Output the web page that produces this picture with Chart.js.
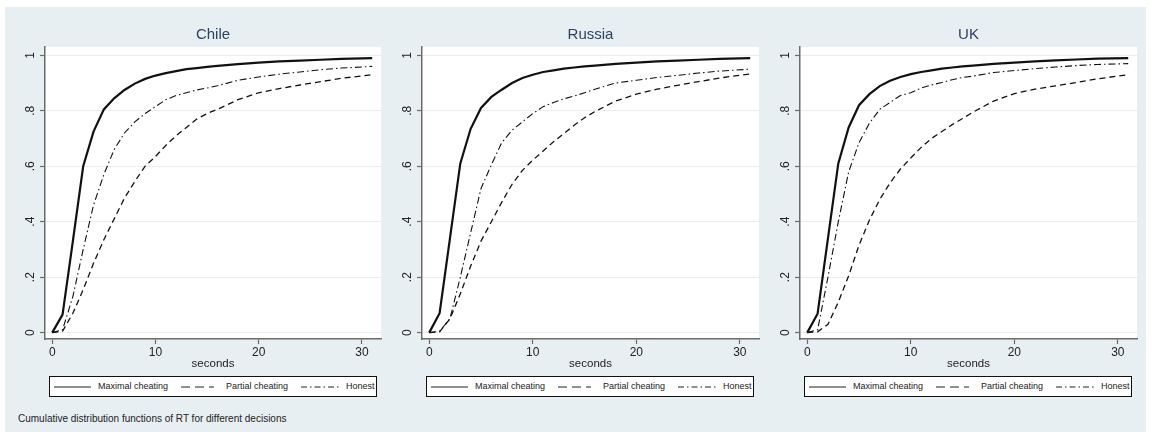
<!DOCTYPE html>
<html>
<head>
<meta charset="utf-8">
<script src="https://cdn.jsdelivr.net/npm/chart.js@4.4.1/dist/chart.umd.min.js"></script>
<style>
  body { margin: 0; background: #fff; font-family: 'Liberation Sans', Arial, sans-serif; }
  #frame { position: absolute; left: 5px; top: 7px; width: 1141px; height: 425px; background: #e8eff2; }
  canvas { position: absolute; }
  .legend { position: absolute; top: 376px; width: 328px; height: 21px; border: 1px solid #111;
            background: #fff; box-sizing: border-box; font-size: 9px; color: #222; }
  .legend svg { position: absolute; top: 9px; }
  .legend span { position: absolute; top: 4px; white-space: nowrap; }
  #note { position: absolute; left: 18px; top: 413px; font-size: 10px; color: #222; }
</style>
</head>
<body>
<div id="frame"></div>
<div id="note">Cumulative distribution functions of RT for different decisions</div>

<script>
  // seconds at which the CDFs were read
  const seconds = [0, 1, 2, 3, 4, 5, 6, 7, 8, 9, 10, 11, 12, 13, 14, 15, 16, 18, 20, 22, 24, 26, 28, 31];
  const countries = ['Chile', 'Russia', 'UK'];
  const seriesNames = ['Maximal cheating', 'Partial cheating', 'Honest'];

  const chileMaximal = [0, 0.065, 0.33, 0.6, 0.725, 0.805, 0.845, 0.875, 0.898, 0.915, 0.927, 0.936, 0.943, 0.95, 0.954, 0.958, 0.962, 0.968, 0.974, 0.978, 0.981, 0.984, 0.987, 0.99];
  const chilePartial = [0, 0.005, 0.07, 0.155, 0.25, 0.335, 0.41, 0.485, 0.545, 0.6, 0.635, 0.675, 0.71, 0.74, 0.77, 0.79, 0.805, 0.84, 0.865, 0.88, 0.893, 0.905, 0.917, 0.93];
  const chileHonest = [0, 0.01, 0.13, 0.3, 0.46, 0.57, 0.66, 0.72, 0.76, 0.79, 0.815, 0.84, 0.855, 0.865, 0.875, 0.882, 0.89, 0.91, 0.922, 0.932, 0.94, 0.948, 0.954, 0.96];

  const russiaMaximal = [0, 0.07, 0.34, 0.61, 0.735, 0.81, 0.85, 0.876, 0.9, 0.918, 0.93, 0.94, 0.946, 0.952, 0.956, 0.96, 0.963, 0.969, 0.974, 0.978, 0.981, 0.984, 0.987, 0.99];
  const russiaPartial = [0, 0.003, 0.05, 0.14, 0.24, 0.33, 0.4, 0.47, 0.535, 0.585, 0.622, 0.655, 0.688, 0.718, 0.748, 0.775, 0.797, 0.835, 0.86, 0.878, 0.892, 0.905, 0.918, 0.933];
  const russiaHonest = [0, 0.005, 0.05, 0.2, 0.36, 0.52, 0.605, 0.685, 0.73, 0.76, 0.79, 0.815, 0.83, 0.843, 0.853, 0.865, 0.878, 0.9, 0.91, 0.92, 0.928, 0.936, 0.943, 0.95];

  const ukMaximal = [0, 0.068, 0.34, 0.61, 0.74, 0.82, 0.86, 0.889, 0.908, 0.922, 0.932, 0.94, 0.946, 0.952, 0.956, 0.96, 0.963, 0.969, 0.974, 0.978, 0.982, 0.985, 0.988, 0.99];
  const ukPartial = [0, 0.003, 0.03, 0.11, 0.205, 0.315, 0.405, 0.48, 0.54, 0.59, 0.63, 0.668, 0.7, 0.725, 0.75, 0.772, 0.795, 0.835, 0.862, 0.878, 0.89, 0.902, 0.915, 0.93];
  const ukHonest = [0, 0.01, 0.2, 0.4, 0.58, 0.685, 0.755, 0.805, 0.83, 0.855, 0.865, 0.882, 0.893, 0.902, 0.912, 0.92, 0.925, 0.938, 0.945, 0.952, 0.958, 0.963, 0.967, 0.97];

  const xTicks = [0, 10, 20, 30];
  const yTicks = [0, 0.2, 0.4, 0.6, 0.8, 1];
  const yTickLabels = ['0', '.2', '.4', '.6', '.8', '1'];

  const panelSeries = [
    [chileMaximal, chilePartial, chileHonest],
    [russiaMaximal, russiaPartial, russiaHonest],
    [ukMaximal, ukPartial, ukHonest]
  ];

  const panelLeft = [14, 391, 769];
  const panelWidth = [371, 372, 372];
  const FONT = "'Liberation Sans', Arial, sans-serif";

  const lineStyles = [
    { borderWidth: 2.2, borderDash: [], legendDash: '' },
    { borderWidth: 1.3, borderDash: [6, 4], legendDash: '9 5' },
    { borderWidth: 1.1, borderDash: [7, 3, 1.5, 3], legendDash: '6 3 1.5 3' }
  ];

  // white plot region like Stata's plotregion
  const plotBg = {
    id: 'plotBg',
    beforeDraw(chart) {
      const a = chart.chartArea;
      chart.ctx.save();
      chart.ctx.fillStyle = '#fff';
      chart.ctx.fillRect(a.left, a.top, a.right - a.left, a.bottom - a.top);
      chart.ctx.restore();
    }
  };

  // vertical y labels
  const yLabels = {
    id: 'yLabels',
    afterDraw(chart) {
      const s = chart.scales.y;
      const ctx = chart.ctx;
      ctx.save();
      ctx.fillStyle = '#222';
      ctx.font = '12px ' + FONT;
      ctx.textAlign = 'center';
      ctx.textBaseline = 'middle';
      yTicks.forEach((v, i) => {
        ctx.save();
        ctx.translate(s.right - 14, s.getPixelForValue(v));
        ctx.rotate(-Math.PI / 2);
        ctx.fillText(yTickLabels[i], 0, 0);
        ctx.restore();
      });
      ctx.restore();
    }
  };

  countries.forEach((country, p) => {
    const canvas = document.createElement('canvas');
    canvas.width = panelWidth[p];
    canvas.height = 351;
    canvas.style.left = panelLeft[p] + 'px';
    canvas.style.top = '20px';
    document.body.appendChild(canvas);

    const datasets = panelSeries[p].map((vals, k) => ({
      label: seriesNames[k],
      data: seconds.map((s, i) => ({ x: s, y: vals[i] })),
      borderColor: '#111',
      borderWidth: lineStyles[k].borderWidth,
      borderDash: lineStyles[k].borderDash,
      pointRadius: 0,
      tension: 0,
      fill: false
    }));

    new Chart(canvas, {
      type: 'line',
      data: { datasets: datasets },
      plugins: [plotBg, yLabels],
      options: {
        responsive: false,
        animation: false,
        layout: { autoPadding: false, padding: { right: 4 } },
        plugins: {
          legend: { display: false },
          tooltip: { enabled: false },
          title: {
            display: true,
            text: country,
            fullSize: false,
            color: '#2e3f63',
            font: { family: FONT, size: 15, weight: 'normal' },
            padding: { top: 6, bottom: 3 }
          }
        },
        scales: {
          x: {
            type: 'linear',
            min: -0.7,
            max: 31.85,
            afterBuildTicks: s => { s.ticks = xTicks.map(v => ({ value: v })); },
            afterFit: s => { s.height = 32; },
            grid: { drawOnChartArea: false, tickLength: 5, tickColor: '#6b6b6b', tickWidth: 1.2 },
            border: { color: '#6b6b6b', width: 1.5 },
            ticks: { color: '#222', padding: 1, maxRotation: 0, font: { family: FONT, size: 12 } },
            title: {
              display: true,
              text: 'seconds',
              color: '#222',
              font: { family: FONT, size: 11.5 },
              padding: { top: 0, bottom: 0.5 }
            }
          },
          y: {
            min: -0.023,
            max: 1.03,
            afterBuildTicks: s => { s.ticks = yTicks.map(v => ({ value: v })); },
            afterFit: s => { s.width = 31; },
            grid: { color: '#e6eef1', lineWidth: 1, tickLength: 5, tickColor: '#6b6b6b', tickWidth: 1.2 },
            border: { color: '#6b6b6b', width: 1.5 },
            ticks: { display: false }
          }
        }
      }
    });

    // legend box below each panel
    const plotLeft = panelLeft[p] + 31;
    const lg = document.createElement('div');
    lg.className = 'legend';
    lg.style.left = (plotLeft + 4) + 'px';
    const sampleX = [4, 131, 251];
    const sampleW = [37, 33, 38];
    const textX = [48, 176, 296];
    seriesNames.forEach((name, k) => {
      const dash = lineStyles[k].legendDash;
      lg.insertAdjacentHTML('beforeend',
        `<svg style="left:${sampleX[k]}px" width="${sampleW[k]}" height="2">` +
        `<line x1="0" y1="1" x2="${sampleW[k]}" y2="1" stroke="#222" stroke-width="${k === 0 ? 1.2 : 1.1}"` +
        (dash ? ` stroke-dasharray="${dash}"` : '') + `/></svg>` +
        `<span style="left:${textX[k]}px">${name}</span>`);
    });
    document.body.appendChild(lg);
  });
</script>
</body>
</html>
